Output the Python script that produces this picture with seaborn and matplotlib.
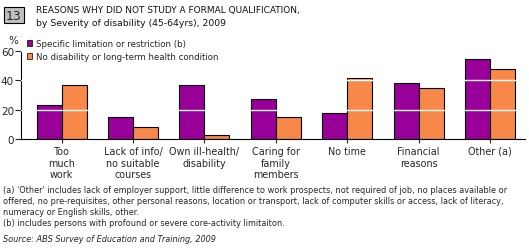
import pandas as pd
import matplotlib.pyplot as plt
import matplotlib.patches as mpatches
import seaborn as sns

# Reasons why did not study a formal qualification (45-64yrs), 2009
reasons = ["Too\nmuch\nwork", "Lack of info/\nno suitable\ncourses", "Own ill-health/\ndisability",
           "Caring for\nfamily\nmembers", "No time", "Financial\nreasons", "Other (a)"]
specific = [23.0, 14.8, 36.6, 27.0, 17.5, 38.0, 54.3]
no_disability = [36.6, 8.0, 2.5, 14.8, 41.4, 34.5, 47.5]
series = ["Specific limitation or restriction (b)", "No disability or long-term health condition"]
colors = ["#990099", "#F8874A"]

df = pd.DataFrame({
    "reason": reasons * 2,
    "value": specific + no_disability,
    "series": [series[0]] * len(reasons) + [series[1]] * len(reasons),
})

sns.set_style("white")
plt.rcParams['font.family'] = ['DejaVu Sans']

fig = plt.figure(figsize=(5.29, 2.53), dpi=100)
ax = fig.add_axes([21 / 529, 1 - 140 / 253, (525 - 21) / 529, 88 / 253])

sns.barplot(data=df, x="reason", y="value", hue="series", palette=colors, ax=ax,
            width=0.7, edgecolor="black", linewidth=0.8, saturation=1, legend=False, zorder=2)

# white gridlines only show on the bars
for y in [20, 40, 60]:
    ax.axhline(y, color="white", lw=1.0, zorder=3)

ax.set_ylim(0, 60)
ax.set_xlim(-0.57, 6.49)
ax.set_yticks([0, 20, 40, 60])
ax.set_xlabel("")
ax.set_ylabel("")
for s in ["top", "right"]:
    ax.spines[s].set_visible(False)
ax.spines["left"].set_linewidth(0.8)
ax.spines["bottom"].set_linewidth(0.8)
ax.spines["left"].set_color("black")
ax.spines["bottom"].set_color("black")
ax.tick_params(axis="y", length=4, width=0.8, labelsize=7.5, pad=1, left=True)
ax.tick_params(axis="x", length=3, width=0.8, labelsize=6.9, pad=2, bottom=True)
ax.set_xticks(range(len(reasons)))
ax.set_xticklabels(reasons, linespacing=1.2)

# legend
handles = [mpatches.Patch(facecolor=c, edgecolor="black", lw=0.5) for c in colors]
fig.legend(handles, series, loc="upper left", bbox_to_anchor=(27 / 529, 1 - 40 / 253),
           frameon=False, fontsize=6.2, handlelength=0.6, handleheight=0.6,
           handletextpad=0.5, labelspacing=0.45, borderpad=0, borderaxespad=0)

# title block
fig.text(6 / 529, 1 - 16 / 253, "13", fontsize=9, va="center", ha="left",
         bbox=dict(boxstyle="square,pad=0.15", facecolor="#C0C0C0", edgecolor="black", lw=0.8))
fig.text(36 / 529, 1 - 11 / 253, "REASONS WHY DID NOT STUDY A FORMAL QUALIFICATION,",
         fontsize=6.5, va="center", ha="left", color="#111111")
fig.text(36 / 529, 1 - 23 / 253, "by Severity of disability (45-64yrs), 2009",
         fontsize=6.7, va="center", ha="left", color="#111111")
fig.text(8 / 529, 1 - 41 / 253, "%", fontsize=7.5, va="center", ha="left")

# footnotes
notes = ("(a) 'Other' includes lack of employer support, little difference to work prospects, not required of job, no places available or\n"
         "offered, no pre-requisites, other personal reasons, location or transport, lack of computer skills or access, lack of literacy,\n"
         "numeracy or English skills, other.\n"
         "(b) includes persons with profound or severe core-activity limitaiton.")
fig.text(3 / 529, 1 - 186 / 253, notes, fontsize=5.85, va="top", ha="left", linespacing=1.3)
fig.text(3 / 529, 1 - 240 / 253, "Source: ABS Survey of Education and Training, 2009",
         fontsize=5.9, va="center", ha="left", style="italic")

plt.savefig("out.png", dpi=100)
